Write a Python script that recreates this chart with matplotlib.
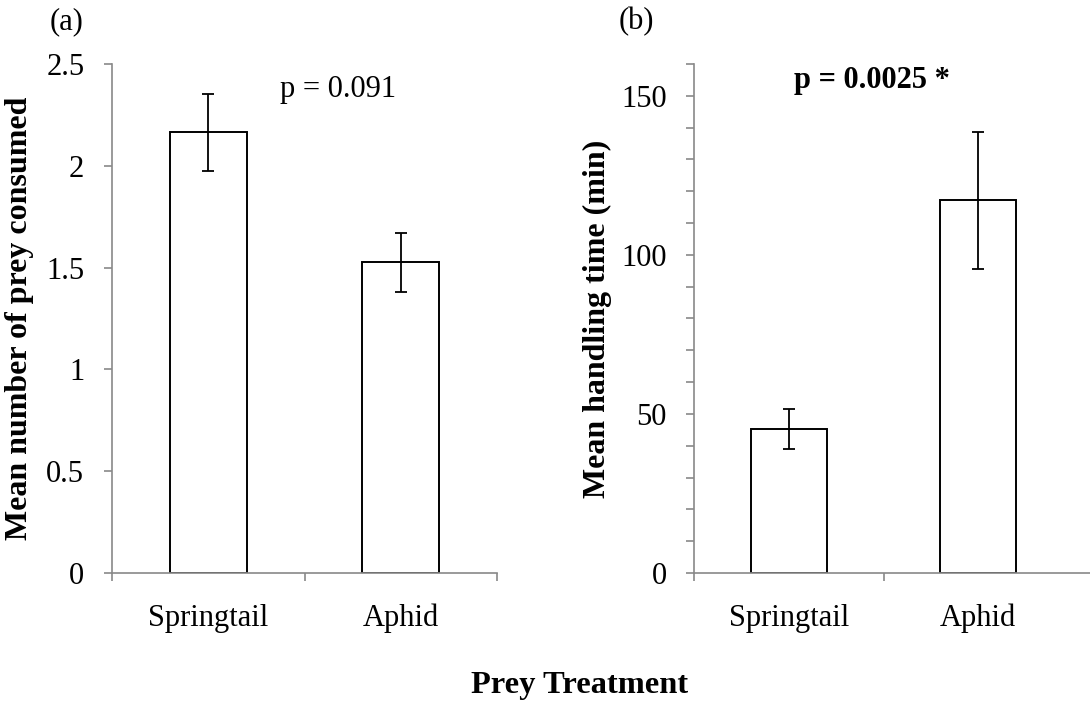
import numpy as np
import matplotlib.pyplot as plt

# Datos
categorias = ['Springtail', 'Aphid']
presas_media = [2.165, 1.526]
presas_err = [0.19, 0.145]
manejo_media = [45.3, 117.1]
manejo_err = [6.3, 21.4]

plt.rcParams['font.family'] = ['Liberation Serif', 'DejaVu Serif']
gris = '#898989'
fs = 22

fig = plt.figure(figsize=(10.9, 7.04), dpi=100)
ax1 = fig.add_axes([0.1028, 0.1861, 0.3532, 0.7230])
ax2 = fig.add_axes([0.6370, 0.1861, 0.3630, 0.7230])


def dibujar(ax, media, err, ymax, yticks, minor=None, extra=0.0, fin=True):
    x = np.arange(len(categorias))
    ax.bar(x, media, width=0.4, color='white', edgecolor='black', linewidth=1.4, zorder=2)
    ax.errorbar(x, media, yerr=err, fmt='none', ecolor='black', elinewidth=1.3,
                capsize=4, capthick=1.3, zorder=3)
    ax.set_xlim(-0.5, len(categorias) - 0.5 + extra)
    ax.set_ylim(0, ymax)
    ax.set_yticks(yticks)
    if minor is not None:
        ax.set_yticks(minor, minor=True)
    ax.set_yticklabels([f'{v:g}' for v in yticks])
    # ticks entre categorias, etiquetas centradas
    bordes = np.arange(len(categorias) + 1) - 0.5
    if not fin:
        bordes = bordes[:-1]
    ax.set_xticks(bordes)
    ax.set_xticklabels([])
    ax.set_xticks(x, minor=True)
    ax.set_xticklabels(categorias, minor=True)
    ax.tick_params(axis='x', which='minor', length=0, pad=22, labelsize=fs)
    ax.tick_params(axis='x', which='major', length=6, width=1.2, color=gris, direction='out')
    ax.tick_params(axis='y', which='both', length=6, width=1.2, color=gris, direction='out',
                   labelsize=fs, pad=14)
    for s in ['top', 'right']:
        ax.spines[s].set_visible(False)
    for s in ['left', 'bottom']:
        ax.spines[s].set_color(gris)
        ax.spines[s].set_linewidth(1.2)


dibujar(ax1, presas_media, presas_err, 2.5, [0, 0.5, 1, 1.5, 2, 2.5])
dibujar(ax2, manejo_media, manejo_err, 160, [0, 50, 100, 150],
        minor=np.arange(0, 161, 10), extra=0.09, fin=False)

ax1.set_ylabel('Mean number of prey consumed', fontsize=23, fontweight='bold')
ax2.set_ylabel('Mean handling time (min)', fontsize=23, fontweight='bold')
ax1.yaxis.set_label_coords(-0.203, 0.5)
ax2.yaxis.set_label_coords(-0.207, 0.5)

ax1.text(0.587, 0.949, 'p = 0.091', transform=ax1.transAxes, ha='center', va='center',
         fontsize=fs)
ax2.text(0.468 * 378.7 / 395.7, 0.967, 'p = 0.0025 *', transform=ax2.transAxes,
         ha='center', va='center', fontsize=fs, fontweight='bold')

fig.text(67 / 1090, 1 - 22 / 704, '(a)', ha='center', va='center', fontsize=fs)
fig.text(636 / 1090, 1 - 22 / 704, '(b)', ha='center', va='center', fontsize=fs)
fig.text(579.5 / 1090, 1 - 685 / 704, 'Prey Treatment', ha='center', va='center',
         fontsize=23.4, fontweight='bold')

fig.savefig('out.png', dpi=100)
